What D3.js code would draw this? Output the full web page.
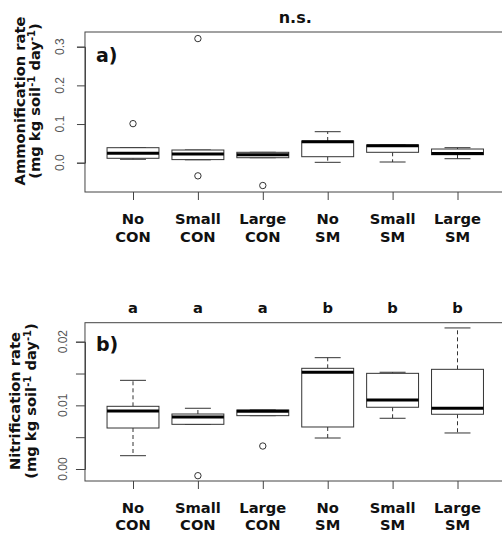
<!DOCTYPE html>
<html><head><meta charset="utf-8">
<script src="https://cdn.jsdelivr.net/npm/d3@7"></script>
<style>body{margin:0;background:#fff}svg{display:block}</style>
</head><body>
<script>
// ---- data ----
const categories = ["No CON","Small CON","Large CON","No SM","Small SM","Large SM"];
const catLine1 = ["No","Small","Large","No","Small","Large"];
const catLine2 = ["CON","CON","CON","SM","SM","SM"];

// panel a: ammonification (whisker low, q1, median, q3, whisker high)
const ammLow  = [0.0088, 0.0075, 0.0129, 0.0010, 0.0018, 0.0103];
const ammQ1   = [0.0114, 0.0080, 0.0129, 0.0155, 0.0269, 0.0207];
const ammMed  = [0.0243, 0.0222, 0.0205, 0.0540, 0.0440, 0.0235];
const ammQ3   = [0.0388, 0.0328, 0.0269, 0.0561, 0.0458, 0.0354];
const ammHigh = [0.0388, 0.0328, 0.0269, 0.0802, 0.0458, 0.0388];
const ammOut  = [[0.101], [0.321, -0.034], [-0.059], [], [], []];
const ammTicks = [0.0, 0.1, 0.2, 0.3];
const ammTickLabels = ["0.0","0.1","0.2","0.3"];

// panel b: nitrification
const nitLow  = [0.00209, 0.00702, 0.00838, 0.00487, 0.00797, 0.00566];
const nitQ1   = [0.00644, 0.00702, 0.00838, 0.00660, 0.00970, 0.00860];
const nitMed  = [0.00911, 0.00817, 0.00906, 0.01520, 0.01084, 0.00953];
const nitQ3   = [0.00985, 0.00864, 0.00927, 0.01582, 0.01503, 0.01566];
const nitHigh = [0.01393, 0.00954, 0.00927, 0.01749, 0.01520, 0.02216];
const nitOut  = [[], [-0.00105], [0.00361], [], [], []];
const nitTicks = [0.0, 0.005, 0.01, 0.015, 0.02];
const nitTickLabels = ["0.00","","0.01","","0.02"];
const nitLetters = ["a","a","a","b","b","b"];

// ---- drawing ----
const W = 502, H = 537;
const svg = d3.select("body").append("svg").attr("width", W).attr("height", H);
const bold = "'DejaVu Sans', Verdana, sans-serif";
const plain = "'Liberation Sans', Arial, sans-serif";

const x = d3.scaleLinear().domain([1, 6]).range([133, 457.5]);
const step = x(2) - x(1);
const boxW = 0.8 * step, capW = 0.4 * step;
const frameL = x(0.26), frameR = x(6.74);

function panel(o) {
  const g = svg.append("g");
  const y = d3.scaleLinear().domain(o.ydom).range(o.yrange);
  // frame
  g.append("rect").attr("x", frameL).attr("y", o.top).attr("width", frameR - frameL)
    .attr("height", o.bottom - o.top).attr("fill", "none").attr("stroke", "#444").attr("stroke-width", 1);
  // y axis
  const ya = g.append("g").attr("transform", `translate(${frameL},0)`)
    .call(d3.axisLeft(y).tickValues(o.ticks).tickSize(o.tickLen).tickFormat(""));
  ya.select(".domain").attr("stroke", "#444");
  ya.selectAll(".tick line").attr("stroke", "#444");
  o.ticks.forEach((t, i) => {
    if (!o.tickLabels[i]) return;
    g.append("text").attr("transform", `translate(${o.labX},${y(t)}) rotate(-90)`)
      .attr("text-anchor", "middle").attr("font-family", plain).attr("font-size", 12)
      .attr("fill", "#555").text(o.tickLabels[i]);
  });
  // x axis ticks
  const xa = g.append("g").attr("transform", `translate(0,${o.bottom})`)
    .call(d3.axisBottom(x).tickValues([1,2,3,4,5,6]).tickSize(8).tickFormat(""));
  xa.select(".domain").remove();
  xa.selectAll(".tick line").attr("stroke", "#444");
  categories.forEach((c, i) => {
    const t = g.append("text").attr("text-anchor", "middle").attr("font-family", bold)
      .attr("font-weight", "bold").attr("font-size", 14.7).attr("fill", "#111");
    t.append("tspan").attr("x", x(i + 1)).attr("y", o.xl1).text(catLine1[i]);
    t.append("tspan").attr("x", x(i + 1)).attr("y", o.xl1 + 17.7).text(catLine2[i]);
  });
  // boxes
  categories.forEach((c, i) => {
    const cx = x(i + 1);
    const bg = g.append("g").attr("stroke", "#333").attr("fill", "none");
    // whiskers
    bg.append("line").attr("x1", cx).attr("x2", cx).attr("y1", y(o.q3[i])).attr("y2", y(o.hi[i]))
      .attr("stroke-dasharray", "4,3");
    bg.append("line").attr("x1", cx).attr("x2", cx).attr("y1", y(o.q1[i])).attr("y2", y(o.lo[i]))
      .attr("stroke-dasharray", "4,3");
    bg.append("line").attr("x1", cx - capW / 2).attr("x2", cx + capW / 2).attr("y1", y(o.hi[i])).attr("y2", y(o.hi[i]));
    bg.append("line").attr("x1", cx - capW / 2).attr("x2", cx + capW / 2).attr("y1", y(o.lo[i])).attr("y2", y(o.lo[i]));
    bg.append("rect").attr("x", cx - boxW / 2).attr("width", boxW)
      .attr("y", y(o.q3[i])).attr("height", Math.max(0.5, y(o.q1[i]) - y(o.q3[i])))
      .attr("fill", "#fff");
    bg.append("line").attr("x1", cx - boxW / 2).attr("x2", cx + boxW / 2)
      .attr("y1", y(o.med[i])).attr("y2", y(o.med[i])).attr("stroke", "#000").attr("stroke-width", 3);
    o.out[i].forEach(v => {
      bg.append("circle").attr("cx", cx).attr("cy", y(v)).attr("r", 3.2).attr("fill", "none");
    });
  });
  // y label
  const yl = g.append("text").attr("font-family", bold).attr("font-weight", "bold")
    .attr("font-size", 14.7).attr("fill", "#111").attr("text-anchor", "middle");
  yl.append("tspan").attr("transform", "").text("");
  const l1 = g.append("text").attr("transform", `translate(${o.yl1x},${o.ylc}) rotate(-90)`)
    .attr("font-family", bold).attr("font-weight", "bold").attr("font-size", 14.7)
    .attr("fill", "#111").attr("text-anchor", "middle").text(o.ylab1);
  const l2 = g.append("text").attr("transform", `translate(${o.yl2x},${o.ylc}) rotate(-90)`)
    .attr("font-family", bold).attr("font-weight", "bold").attr("font-size", 14.7)
    .attr("fill", "#111").attr("text-anchor", "middle");
  l2.append("tspan").text("(mg kg soil");
  l2.append("tspan").attr("font-size", 10).attr("dy", -5).text("-1");
  l2.append("tspan").attr("dy", 5).text(" day");
  l2.append("tspan").attr("font-size", 10).attr("dy", -5).text("-1");
  l2.append("tspan").attr("dy", 5).text(")");
  // panel letter
  g.append("text").attr("x", 96).attr("y", o.letterY).attr("font-family", bold)
    .attr("font-weight", "bold").attr("font-size", 19).attr("fill", "#111").text(o.letter);
  return g;
}

panel({
  ydom: [0, 0.3], yrange: [162.7, 46.7], top: 32, bottom: 192,
  ticks: ammTicks, tickLabels: ammTickLabels, tickLen: 8, labX: 64,
  xl1: 224, lo: ammLow, q1: ammQ1, med: ammMed, q3: ammQ3, hi: ammHigh, out: ammOut,
  ylab1: "Ammonification rate", yl1x: 25, yl2x: 40, ylc: 101, letter: "a)", letterY: 62
});
panel({
  ydom: [0, 0.02], yrange: [469, 341.7], top: 322.7, bottom: 481,
  ticks: nitTicks, tickLabels: nitTickLabels, tickLen: 9, labX: 66.5,
  xl1: 512.7, lo: nitLow, q1: nitQ1, med: nitMed, q3: nitQ3, hi: nitHigh, out: nitOut,
  ylab1: "Nitrification rate", yl1x: 20, yl2x: 36, ylc: 401, letter: "b)", letterY: 351
});

// titles
svg.append("text").attr("x", (frameL + frameR) / 2).attr("y", 22.7).attr("text-anchor", "middle")
  .attr("font-family", bold).attr("font-weight", "bold").attr("font-size", 16).attr("fill", "#111").text("n.s.");
nitLetters.forEach((l, i) => {
  svg.append("text").attr("x", x(i + 1)).attr("y", 313.3).attr("text-anchor", "middle")
    .attr("font-family", bold).attr("font-weight", "bold").attr("font-size", 14.7).attr("fill", "#111").text(l);
});
</script>
</body></html>
